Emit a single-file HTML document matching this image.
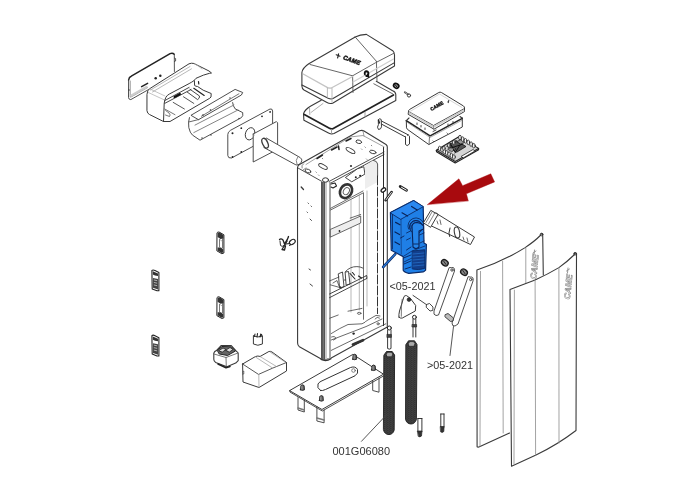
<!DOCTYPE html>
<html><head><meta charset="utf-8">
<style>
html,body{margin:0;padding:0;background:#fff;width:694px;height:500px;overflow:hidden}
svg{display:block}
text{font-family:"Liberation Sans",sans-serif;filter:grayscale(1)}
</style></head>
<body>
<svg width="694" height="500" viewBox="0 0 694 500">
<rect width="694" height="500" fill="#fff"/>
<g fill="none" stroke="#3a3a3a" stroke-width="0.9" stroke-linejoin="round" stroke-linecap="round">

<!-- 1 back plate -->
<g id="backplate">
<path d="M128.6,80 Q129,77 131.3,76.2 L170.1,53.6 Q172.8,52.6 174.2,54.3" stroke-width="1.5" stroke="#222"/>
<path d="M174.3,54.5 L174.4,71.5 M174.4,58 L175.6,58.5 L175.6,61 L174.4,61.5" stroke="#444"/>
<path d="M128.6,80 L128.5,97.5 Q128.6,99.6 130.8,99.6 L148.8,89.4" />
<path d="M130.2,81 L130.2,97 M131,97 L147.5,87.6" stroke="#888"/>
<path d="M131.5,95.5 L146.5,87" stroke="#ccc" stroke-width="2.5"/>
<path d="M128.5,90 L129.5,90" stroke="#333"/>
<path d="M141.6,86.6 L147.6,83.4" stroke-width="1.5" stroke="#222"/>
<circle cx="155.7" cy="78.2" r="1.25" fill="#222" stroke="none"/>
<circle cx="160.3" cy="75.7" r="1.25" fill="#222" stroke="none"/>
</g>

<!-- 2 housing -->
<g id="housing">
<path d="M147,94 Q147.3,89.5 150,88.5 L189,63.8 Q191.5,62.8 194,63.5 L209,71 L211.5,73 L209.5,73.3 Q204,74.5 196,78.3 L193.8,80.8 Q192,82 189.1,83.6 L169.4,94 Q165,96 164.2,103.4 L163.5,121.5 L149.5,114.5 Q147.4,113.7 147,111 Z" fill="#fff" stroke-width="1"/>
<path d="M150.5,90 L190,66.5 M152.5,92 L191.5,68.8" stroke="#999" stroke-width="0.7"/>
<path d="M194,63.5 Q199,66 202,69 M150,89 L165,96 M148.3,92.5 L164.5,100" stroke="#aaa" stroke-width="0.7"/>
<path d="M194.4,80.8 L194.6,85.5 Q196,86.5 197.6,86.5 L203.2,90.2 L211.2,93.5 L211,97 L209.8,98.2 L170,121.5 L163.5,121.5" stroke-width="1"/>
<path d="M164.7,100.6 L189.1,87.4 M164.7,103.4 L191,89.5" stroke="#333" stroke-width="0.9"/>
<path d="M174.5,97 L180,94" stroke="#111" stroke-width="2"/>
<path d="M173.2,102.4 L184.4,109 M183.5,96.8 L193.8,103.4" stroke="#444" stroke-width="0.9"/>
<path d="M187.3,92.1 L197.6,99.6 Q199.8,98.5 199.5,96 L190,89.3" stroke="#333" stroke-width="0.9"/>
<path d="M193.8,88.3 L204.2,95.4" stroke="#222" stroke-width="1.2"/>
<path d="M198.5,81.5 L198.8,84" stroke="#222" stroke-width="1.2"/>
<path d="M164.7,109 L175,114.7 M165.6,110.5 L169,113 Q171,115 169.5,116.5 L165.5,115" stroke="#555" stroke-width="0.8"/>
</g>

<!-- 3 bracket channel -->
<g id="channel">
<path d="M191.3,115.1 L235.1,89.4 L242.7,92.5 L241.4,95 L198.8,119.5 Z" fill="#fff"/>
<path d="M201.3,116.3 L238.9,93.8" stroke="#666"/>
<path d="M189.4,117.6 Q188,122 188.8,127.6 Q190,133 192.5,135.1 L200,140.2 L241.4,117.6 Q243.5,116 242.7,112.6 L235.1,108.8 Q233,106 232.6,102.6"/>
<path d="M195,125.1 L233.9,105 M193.8,132.6 L238,110" stroke="#777"/>
<path d="M188.8,122 L198.8,119.5" stroke="#555"/>
<circle cx="203" cy="115" r="0.8" fill="#333" stroke="none"/>
<circle cx="210.5" cy="110" r="0.8" fill="#333" stroke="none"/>
<circle cx="230" cy="98" r="0.7" fill="#333" stroke="none"/>
<circle cx="239" cy="118.5" r="0.7" fill="#333" stroke="none"/>
<circle cx="211" cy="135" r="0.7" fill="#333" stroke="none"/>
<circle cx="202" cy="138" r="0.7" fill="#333" stroke="none"/>
</g>

<!-- 4 flanges + shaft -->
<g id="flanges">
<path d="M272.6,123.8 L272.6,111 Q272.6,108.5 270,109 L230.5,130.3 Q227.8,132 227.8,134.5 L227.8,155.5 Q228,158.5 231.5,158 L253.2,146.3" fill="#fff"/>
<ellipse cx="250.1" cy="133.8" rx="4.6" ry="6.3" transform="rotate(20 250.1 133.8)"/>
<circle cx="232.5" cy="133.2" r="1" fill="#222" stroke="none"/>
<circle cx="241.3" cy="128.2" r="0.9" fill="#222" stroke="none"/>
<circle cx="262" cy="116.3" r="0.9" fill="#222" stroke="none"/>
<circle cx="270.1" cy="111.9" r="0.9" fill="#222" stroke="none"/>
<circle cx="232.5" cy="157" r="0.9" fill="#222" stroke="none"/>
<circle cx="241.3" cy="152" r="0.9" fill="#222" stroke="none"/>
<path d="M253.2,134 L276.4,121.6 L277.6,122.8 L277.6,143.8 L272.6,146.5 M253.2,134 L253.2,162 L272.6,151.9" fill="#fff"/>
<path d="M253.2,162 L277.6,148.5" stroke="none"/>
<path d="M266.4,138.1 L300.2,157.6 Q304,160.5 299,164.5 Q296.5,165.5 295.2,164.5 L263.9,147.5" fill="#fff"/>
<ellipse cx="265.1" cy="143.2" rx="2.6" ry="5.2" transform="rotate(-25 265.1 143.2)" fill="#fff" stroke-width="1.3"/>
<path d="M297.7,157 Q295,160 297,164.5" stroke="#777"/>
</g>

<!-- 5 top cover -->
<g id="topcover">
<path d="M301.9,72.6 Q302.5,68 308.8,63.8 L355.2,36.9 Q360,34.6 366.4,34.4 L392.7,50.7 Q394.5,52.5 394.5,55 L394.5,66 L332.6,103.2 Q329.5,104 327,102.5 L304,90 Q301.9,88.5 301.9,86 Z" fill="#fff" stroke-width="1.1"/>
<path d="M301.9,85 L328.2,98.2 Q331,99.5 333,98.5 L394.5,62.6" stroke-width="1.1"/>
<path d="M310,64.5 L352.6,75.8 L375.8,62.6 L394,53.2 M355.1,36.9 L376.4,61.3 M352.6,75.8 L353,92.5 M376.4,61.3 L377,80.5" stroke="#555"/>
<path d="M303.2,74 L327.6,87.6 Q329.5,88.4 331.3,88 L352.6,76.5" stroke="#c4c4c4" stroke-width="1.3"/>
<path d="M353,82 L393.5,59" stroke="#d0d0d0" stroke-width="1.2"/>
<path d="M327.4,88 L327.4,97.5 M332,88.5 L332,102.5" stroke="#aaa" stroke-width="0.8"/>
<text x="0" y="0" font-size="6" font-weight="bold" font-style="italic" fill="#666" stroke="#1a1a1a" stroke-width="0.6" transform="translate(342.8,59) rotate(20)">CAME</text>
<path d="M336.2,54.8 L340,56.3 M338.6,53.8 L337.6,58" stroke="#222" stroke-width="1.1"/>
<path d="M364.8,74.2 Q364.3,71.3 366.6,71.3 Q368.8,71.6 368.3,74.3 Q367.8,76.5 366.2,75.8 M367.9,74.5 L368.5,76.8" stroke="#111" stroke-width="1.9"/>
</g>

<!-- 6 gasket -->
<g id="gasket">
<path d="M321.2,100.2 L310.4,106.2 Q305,109.5 303.5,113.6 L303.9,120.3 L328.5,133 Q331.5,134.5 334,133.5 L395.8,100.5 L395.8,94.5 Q395.5,91.5 392.6,90.7 L376.3,81.3" fill="none" stroke-width="1.1"/>
<path d="M304.3,114.4 L329.4,128.3 Q331,129.2 332.8,128.7 L393.5,95" stroke-width="1.7" stroke="#222"/>
<path d="M309.5,107.5 L309.8,114.5 M311,112.5 L323,103.5" stroke="#999" stroke-width="0.8"/>
<path d="M373.8,83.8 L392.6,93.8" stroke="#555" stroke-width="0.9"/>
<path d="M331.5,129.5 L331.5,134 M365,112.5 L365,116.5" stroke="#999"/>
</g>

<!-- 7 washer, screw -->
<ellipse cx="396.2" cy="85.8" rx="2.8" ry="2.2" transform="rotate(35 396.2 85.8)" fill="#999" stroke="#111" stroke-width="1.6"/><path d="M394.5,84 L397.5,87.5" stroke="#111" stroke-width="1"/>
<path d="M404.8,92.3 L407.8,94.3" stroke-width="1.8" stroke="#333"/><path d="M404.8,92.3 L407.8,94.3" stroke-width="0.6" stroke="#fff"/>
<circle cx="409" cy="95.5" r="1.6" stroke-width="1"/>

<!-- 8 control box -->
<g id="ctrlbox">
<path d="M406.3,120.7 L406.5,127.8 Q407,129.5 409,130.5 L428.8,144.5 L462.3,127 L462.3,118.2" fill="#fff" stroke-width="1"/>
<path d="M406.3,120.7 L430.1,135.8 L462.3,118.4" stroke-width="1.5" stroke="#222"/>
<path d="M407.5,122.5 L430,137.5 L461.5,120.5" stroke="#777" stroke-width="0.6"/>
<path d="M429.5,137 L429,144.5" stroke="#555" stroke-width="0.8"/>
<path d="M406.3,120.7 L409,118 M462.3,118.2 L460,116.5" stroke-width="1.1"/>
<path d="M417,123 l0,1.5 M421,125.5 l0,1.5 M425,128 l0,1.5 M448,124 l0,1.5 M453,121.5 l0,1.5 M433,131.5 l3,-1.5" stroke="#333" stroke-width="0.9"/>
<path d="M433,141 l0.4,0.4 M447,133 l0.4,0.4" stroke="#333" stroke-width="0.9"/>
<path d="M408.5,111 Q408.5,110 409.5,109.5 L438.8,92.5 Q440,91.8 441.4,92.5 L463.5,106 Q464.5,106.7 464.5,108 L464.5,111.5 L434,129.2 L408.5,114.5 Z" fill="#fff" stroke-width="1"/>
<path d="M408.5,111.5 L433.5,125.5 L464.5,108.5" stroke-width="0.9"/>
<path d="M409.5,113 L433.5,127 L463.5,110.5" stroke="#ccc" stroke-width="1.6"/>
<path d="M410,111.5 L439.5,94 L462,107.5" stroke="#ccc" stroke-width="0.8"/>
<path d="M433.5,126.5 L433.5,129.5" stroke="#777" stroke-width="0.7"/>
<text x="0" y="0" font-size="4.8" font-weight="bold" fill="#777" stroke="#222" stroke-width="0.5" transform="translate(431.5,111) rotate(-30)">CAME</text>
<path d="M447.5,102 l1.5,-0.9 M448.5,100.5 l0,2.2" stroke="#333" stroke-width="0.8"/>
</g>

<!-- 9 small bracket -->
<g id="smallbracket">
<path d="M379.5,120 L408.5,135 M379.5,123 L407,137.8" stroke-width="1"/>
<path d="M378.5,119.5 Q379.8,117.8 381.2,119.5 L381.5,126.8 L380.5,128.8 L378.5,129.5 L377.5,127.2 L378.3,125 Z" fill="#fff" stroke-width="1"/>
<path d="M378.5,120 L379.5,123" stroke="#222" stroke-width="1.3"/>
<path d="M405.5,136.8 L405.5,144.5 L407.2,145.6 L409.5,144 L409.5,136.2 Q408.5,134.5 407.5,135.2" fill="#fff" stroke-width="1"/>
</g>

<!-- 10 circuit board -->
<g id="board">
<path d="M436.3,150.2 L458.8,136.7 L478.6,148.4 L455.2,161.5 Z" fill="#d6d6d6" stroke="#222" stroke-width="1.1"/>
<path d="M436.3,150.2 L436.5,151.8 L455.2,163 L478.6,149.8 L478.6,148.4" stroke="#222" stroke-width="1.1"/>
<path d="M447,146 L456,140.5 L466,146.5 L457,152 Z" fill="#555" stroke="#111" stroke-width="0.8"/>
<path d="M448,149 L452,146.5 L456,149 L452,151.5 Z M457,141.5 L461,139.5 L465,142 L461,144 Z" fill="#999" stroke="#111" stroke-width="0.7"/>
<path d="M450,143 L455,152 M460,145 L455,153 M451,148 L463,144" stroke="#111" stroke-width="1"/>
<ellipse cx="439.7" cy="148.5" rx="1.4" ry="2.3" fill="#f4f4f4" stroke="#222" stroke-width="0.8"/>
<ellipse cx="442.1" cy="149.9" rx="1.4" ry="2.3" fill="#f4f4f4" stroke="#222" stroke-width="0.8"/>
<ellipse cx="444.4" cy="151.4" rx="1.4" ry="2.3" fill="#f4f4f4" stroke="#222" stroke-width="0.8"/>
<ellipse cx="446.8" cy="152.8" rx="1.4" ry="2.3" fill="#f4f4f4" stroke="#222" stroke-width="0.8"/>
<ellipse cx="449.1" cy="154.2" rx="1.4" ry="2.3" fill="#f4f4f4" stroke="#222" stroke-width="0.8"/>
<ellipse cx="451.5" cy="155.6" rx="1.4" ry="2.3" fill="#f4f4f4" stroke="#222" stroke-width="0.8"/>
<ellipse cx="453.9" cy="157.0" rx="1.4" ry="2.3" fill="#f4f4f4" stroke="#222" stroke-width="0.8"/>
<ellipse cx="460.0" cy="137.5" rx="1.4" ry="2.3" fill="#f4f4f4" stroke="#222" stroke-width="0.8"/>
<ellipse cx="462.7" cy="139.1" rx="1.4" ry="2.3" fill="#f4f4f4" stroke="#222" stroke-width="0.8"/>
<ellipse cx="465.5" cy="140.8" rx="1.4" ry="2.3" fill="#f4f4f4" stroke="#222" stroke-width="0.8"/>
<ellipse cx="468.3" cy="142.4" rx="1.4" ry="2.3" fill="#f4f4f4" stroke="#222" stroke-width="0.8"/>
<ellipse cx="471.1" cy="144.1" rx="1.4" ry="2.3" fill="#f4f4f4" stroke="#222" stroke-width="0.8"/>
<ellipse cx="473.8" cy="145.7" rx="1.4" ry="2.3" fill="#f4f4f4" stroke="#222" stroke-width="0.8"/>
<ellipse cx="443.9" cy="148.3" rx="1.3" ry="2" fill="#f4f4f4" stroke="#222" stroke-width="0.8"/>
<ellipse cx="448.9" cy="145.4" rx="1.3" ry="2" fill="#f4f4f4" stroke="#222" stroke-width="0.8"/>
<ellipse cx="453.8" cy="142.4" rx="1.3" ry="2" fill="#f4f4f4" stroke="#222" stroke-width="0.8"/>
<path d="M461.5,156.2 L473,149.5 L475,151 L463.5,157.8 Z" fill="#fff" stroke="#222" stroke-width="0.8"/>
</g>

<!-- 11 cabinet -->
<g id="cabinet">
<path d="M297.5,167.5 Q297.8,165.5 299.5,164.5 L359.5,130.8 Q362,129.8 364,131 L386,144.5 Q387.3,145.5 387.3,147 L387.3,327 L329.8,358.8 L322.1,359.5 L299.4,346.8 Q297.6,345.5 297.6,343 Z" fill="#fff" stroke-width="1.1"/>
<path d="M298,168 L322,181.5 M329,181.5 L384,152 M330,183.5 L384,154.5" stroke-width="0.9"/>
<path d="M306,164.5 L350,137 L363,135.5 L384,146.8 M363,131 L364,136" stroke="#777" stroke-width="0.7"/>
<path d="M383.5,147.5 L383.5,325.6" stroke-width="1" stroke="#2a2a2a"/>
<rect x="321" y="182" width="4" height="177.5" fill="#555" stroke="none"/>
<path d="M323.3,182 L323.3,359" stroke="#8a8a8a" stroke-width="0.7"/>
<rect x="325" y="182" width="2" height="177" fill="#cdcdcd" stroke="none"/>
<rect x="329" y="182" width="2" height="176.5" fill="#a8a8a8" stroke="none"/>
<path d="M321,359.5 Q326,362 331,358.8" stroke="#333" stroke-width="1.1"/>
<ellipse cx="325.5" cy="180" rx="3" ry="2.2" fill="#fff" stroke="#333" stroke-width="1"/>
<ellipse cx="323" cy="166.5" rx="4.8" ry="1.9" transform="rotate(28 323 166.5)"/>
<ellipse cx="350.5" cy="150.5" rx="5" ry="1.9" transform="rotate(30 350.5 150.5)"/>
<ellipse cx="358.8" cy="141.8" rx="2.9" ry="1.7" transform="rotate(15 358.8 141.8)"/>
<ellipse cx="372.8" cy="152" rx="3.3" ry="1.6" transform="rotate(15 372.8 152)"/>
<ellipse cx="308" cy="171" rx="3" ry="1.7" transform="rotate(20 308 171)"/>
<path d="M302,168 Q301,165.5 303.5,163.8 M303,170 L306,168" stroke="#555" stroke-width="0.7"/>
<path d="M317,158.5 L322.5,155 M331.5,150 L337,147 M338.5,146 L339,149.5 M346,141 L351,138.5" stroke-width="1.5" stroke="#222"/>
<path d="M361.5,149 l0.3,0.3 M365,147 l0.3,0.3 M371.5,145.5 l0.3,0.3 M366.5,159 l0.3,0.3 M322.5,158.5 l0.3,0.3 M318.5,175 l0.3,0.3 M316,172 l0.3,0.3" stroke="#555" stroke-width="0.9"/>
<circle cx="351" cy="166" r="1.1" fill="#333" stroke="none"/>
<path d="M345.7,177.3 L357.4,168.8 L363.8,166.7 L364.9,174.1 L352.1,181.6 Z" fill="#fff" stroke="#333" stroke-width="0.9"/>
<circle cx="355.8" cy="177.3" r="1" fill="#222" stroke="none"/>
<circle cx="360.1" cy="175.7" r="1" fill="#222" stroke="none"/>
<path d="M331,184 L335,183 L336.5,186 L333,188 L331,187" stroke="#222" stroke-width="1.1"/>
<ellipse cx="346" cy="191.2" rx="5.7" ry="7.2" transform="rotate(30 346 191.2)" fill="#fff" stroke="#333" stroke-width="2.6"/>
<ellipse cx="346.3" cy="191" rx="2.8" ry="3.8" transform="rotate(30 346 191.2)" stroke="#555" stroke-width="0.9"/>
<path d="M330.6,208.3 L363,191 M330.6,210 L363,193" stroke="#444" stroke-width="0.8"/>
<path d="M351,199.5 L351,312 M359.3,195 L359.3,310 M363.5,193 L363.5,319.2 M367,191 L367,306" stroke="#999" stroke-width="0.7"/>
<path d="M363.5,193 L363.5,319.2" stroke="#555" stroke-width="0.8"/>
<path d="M365,166 L373.4,160.3 Q377.2,161 377.6,164 L377.6,182 L365,189 Z" fill="#eeeeee" stroke="none"/>
<path d="M373.4,160.3 Q377.2,161 377.6,164 L377.6,176" stroke="#444" stroke-width="0.9"/>
<path d="M377.5,176 L377.5,313.6" stroke="#333" stroke-width="1" stroke-dasharray="9 2"/>
<path d="M330.6,229.3 L360.7,216 L360.7,223 L330.6,237 Z" fill="#eee" stroke="#444" stroke-width="0.8"/>
<path d="M350.2,218.1 L360.7,214.5" stroke="#444" stroke-width="0.8"/>
<circle cx="339.5" cy="231" r="0.9" fill="#222" stroke="none"/>
<path d="M329.5,294 L366.5,275.7 M329.5,297.7 L366.8,278.5" stroke="#333" stroke-width="0.9"/>
<path d="M366.3,275.5 Q367.5,276.5 366.8,278.5" stroke="#333" stroke-width="0.9"/>
<path d="M345.5,271.5 Q350,266.5 356.9,266.6 Q360,266.5 363,268.1" stroke="#444" stroke-width="0.9"/>
<path d="M338.6,273.7 L342.5,272 L344,286.5 L340,288 Z M345.5,272 L348.5,271.5 L350,284 L346.5,285 Z" stroke="#333" stroke-width="0.9"/>
<path d="M350,273.5 L355,279 M352.5,272.5 L354.5,275 M358.5,276 L361.5,278" stroke="#222" stroke-width="1.1"/>
<path d="M329.5,281 L339,277 M330.3,284.8 L341.5,288 M333,283 L337,280.5 L339,286" stroke="#444" stroke-width="0.8"/>
<circle cx="345" cy="280" r="0.7" fill="#222" stroke="none"/><circle cx="340.5" cy="287" r="0.7" fill="#222" stroke="none"/>
<path d="M329.8,318.2 L338.2,315 M348,311.2 L362,308.4 M331.2,333.6 Q340,328 348,324.5 L362,323.8 Q366,322 366.2,321 L376,315.4 L380,316 M331.2,340 L366,326.6 L382,319 M331.2,350.4 L385.8,323.8" stroke="#444" stroke-width="0.8"/>
<path d="M331.5,337 Q335,335.5 336,338.5 L333.5,340 M375,319 Q377,316 379.5,318" stroke="#444" stroke-width="0.8"/>
<ellipse cx="359.2" cy="313.3" rx="1.8" ry="1" stroke="#444" stroke-width="0.8"/>
<circle cx="378.1" cy="323.8" r="1.1" stroke="#444" stroke-width="0.8"/>
<circle cx="353.6" cy="333.6" r="1.2" fill="#222" stroke="none"/>
<path d="M353,344.5 L363,340.2" stroke="#333" stroke-width="2.8"/>
<path d="M301.2,187 L303.5,189.5" stroke-width="1.3"/>
<path d="M308,203 l0.5,0.5 M311,206 l0.5,0.5 M307,212 l0.5,0.5 M310,219 l1.5,1.5 M309,269 l1.5,1 M310,284 l2.5,2" stroke="#333" stroke-width="0.9"/>
</g>

<!-- small parts near cabinet right -->
<ellipse cx="383.4" cy="190" rx="2.6" ry="1.7" transform="rotate(-40 383.4 190)" fill="#fff" stroke="#222" stroke-width="1.3"/>
<path d="M391.6,192.1 L385.6,200.2" stroke="#222" stroke-width="2.6" stroke-linecap="round"/>
<path d="M391.4,192.5 L386,199.8" stroke="#fff" stroke-width="0.9"/>
<path d="M400.2,186.5 L406.5,190.2" stroke="#222" stroke-width="2.8" stroke-linecap="round"/>
<path d="M401.5,187.3 L406.3,190.1" stroke="#fff" stroke-width="1"/>

<!-- 12 blue motor -->
<g id="motor" stroke="#0b2a66" stroke-width="0.9">
<path d="M395.2,254.2 L383.2,267" stroke="#0b2a66" stroke-width="2.6"/>
<path d="M395.2,254.2 L383.2,267" stroke="#2a7ad8" stroke-width="1.2"/>
<path d="M390.4,212.6 L413.6,200.6 L423.2,207 L424,243 L426.4,244.6 L425.6,270.2 Q424,272 423.2,271.8 L408.8,273.4 Q404,272 403.2,270.2 L403.2,256.6 L391.2,250.2 Z" fill="#1f7fe6" stroke-width="1.2"/>
<path d="M390.4,212.6 L413.6,200.6 L423.4,206.6 L401,219.2 Z" fill="#2a88f0" stroke-width="0.9"/>
<path d="M401,219.2 L401.3,254" stroke-width="0.6"/>
<path d="M402,212.8 L407.6,216 M411.6,206.4 L417.2,210 M395.6,222.4 L400,224.8 M395,232 L399.5,234.5 M395,242 L399.5,244.5" stroke="#0a2358" stroke-width="1.2"/>
<circle cx="416" cy="227" r="6.5" fill="#1c78dc" stroke-width="1"/>
<circle cx="416" cy="227" r="4.2" fill="#2a88f0" stroke-width="0.8"/>
<path d="M408.5,229 A7.7,7.7 0 0 1 423.5,223" stroke="#0a2358" stroke-width="0.8"/>
<path d="M410.5,229.5 A5.5,5.5 0 0 1 421.5,224" stroke="#0a2358" stroke-width="0.7"/>
<path d="M412,226 Q413,222.5 417,222.5 Q421.5,223 423.5,226 L423.5,229 L419,231 L419,247 Q416,250 413,247 Z" fill="#2585ea" stroke="#0a2358" stroke-width="1.1"/>
<path d="M413.5,244 L418.5,244 M406.5,250 L411,247 M400.5,238 L404,236" stroke="#0a2358" stroke-width="0.9"/>
<path d="M404,256 L412,251 L425,246 M404,262 L412,258" stroke-width="0.8"/>
<path d="M412.6,251 L424.7,249.7 L424.7,268.4 Q418,270.5 412.6,269 Z" fill="#123f8c" stroke="#0b2a66" stroke-width="0.9"/>
<path d="M413,254 L424,253 M413,257 L424,256 M413,260 L424,259 M413,263 L424,262 M413,266 L424,265" stroke="#2a7ad8" stroke-width="0.6"/>
<path d="M406.5,233 L410.5,231 M406.5,240 L410.5,238 M392.5,214.5 L392.5,249 M419.5,235 L424,233 M420,243 L424,241" stroke="#0a2358" stroke-width="0.8"/>
<path d="M403.5,258 L411,255 M404,264 L411,261 M405,269 L411,267" stroke="#0a2358" stroke-width="0.9"/>
</g>

<!-- 13 red arrow -->
<path d="M427.5,204.5 L458.9,178.8 L462.6,185.7 L490.8,173.8 L494.6,181.9 L466.4,193.8 L468.3,200.7 Z" fill="#a80a0e" stroke="#a80a0e" stroke-width="0.4"/>

<!-- 14 spring tube link -->
<g id="tube">
<path d="M438,214.4 L474.5,237 L470.5,244.5 L431.7,226.1" fill="#fff" stroke-width="1"/>
<path d="M423.6,222.5 L430.8,210.4 L438,214.4 L430.8,227 Z" fill="#fff" stroke-width="1"/>
<path d="M426,222.5 L432,212 M428.5,224 L434.5,213.5 M434,213 L437,213 L438,216" stroke="#555" stroke-width="0.7"/>
<path d="M450,228 Q448,234 449.5,236.5" stroke="#333" stroke-width="1"/>
<ellipse cx="457" cy="232.5" rx="2.6" ry="5.6" transform="rotate(-10 457 232.5)" stroke-width="1.1"/>
<path d="M437,221 L438,224 M440,220 L441,224.5 M463,237 L464,240 M467,238 L468,242" stroke="#444" stroke-width="0.8"/>
</g>

<!-- 15 panels -->
<g id="panels">
<path d="M476.9,270.1 Q502,262 525.1,247.6 Q535,241 540.8,235 L541.4,233.8 Q543,233 542.7,235 L543.3,275 M476.9,270.1 L477.1,446.8 Q478,447.5 480,446.5 L509.5,433.1" stroke-width="1.1"/>
<path d="M480.5,271.4 L480,446 M502.6,261.3 L503.2,433 M525.8,248.2 L525.8,290" stroke="#999"/>
<text x="0" y="0" font-size="8.5" font-weight="bold" fill="#fff" stroke="#8a8a8a" stroke-width="0.6" transform="translate(536,280) rotate(-84) skewX(-12)">CAME</text>
<path d="M533,253 L536,251 M534.5,250 L534,255" stroke="#8a8a8a" stroke-width="0.9"/>
<path d="M510,289.5 Q522,285 535.1,280.1 Q548,274 558.9,267.6 Q568,261 574,255 L574.6,253.2 Q577,252 576.5,255 L576,430.5 Q557,445 536,455 Q522,461.5 511.5,466.3 L510,289.5 Z" fill="#fff" stroke-width="1.1"/>
<circle cx="541.5" cy="234.5" r="1.3" stroke="#333"/><circle cx="575" cy="253.8" r="1.3" stroke="#333"/>
<path d="M514.4,290.1 L514,464 M535.1,280.7 L535.6,455 M558.9,268.2 L559,443" stroke="#999"/>
<text x="0" y="0" font-size="8.5" font-weight="bold" fill="#fff" stroke="#8a8a8a" stroke-width="0.6" transform="translate(569.8,300) rotate(-84) skewX(-12)">CAME</text>
<path d="M566.5,271 L569.5,269 M568,268 L567.5,273" stroke="#8a8a8a" stroke-width="0.9"/>
</g>

<!-- 17 rods -->
<g id="rods">
<path d="M449,268 L434,311 Q433,315 436,315.5 L438.5,315 L454.5,271 Q455,267 452,267.5 Z" fill="#fff"/>
<circle cx="452" cy="270" r="1.2"/>
<ellipse cx="444.8" cy="262.8" rx="3.6" ry="2.8" transform="rotate(35 444.8 262.8)" fill="#888" stroke="#1a1a1a" stroke-width="1.3"/><path d="M443.5,261 L446,264.5" stroke="#222" stroke-width="0.9"/>
<path d="M468,277 L452,323 Q452,326.5 455,326 L458,324 L473,281 Q474,276.5 470.5,277 Z" fill="#fff"/>
<circle cx="470.7" cy="279.5" r="1.2"/>
<ellipse cx="464" cy="272.2" rx="3.6" ry="2.8" transform="rotate(35 464 272.2)" fill="#888" stroke="#1a1a1a" stroke-width="1.3"/><path d="M462.7,270.4 L465.2,274" stroke="#222" stroke-width="0.9"/>
<path d="M413,295.4 L427,305" stroke="#333" stroke-width="0.9"/>
<path d="M426.8,304.4 L429.5,303.5 L433,307 L432.8,310.4 L430,311 L426.5,307.5 Z" fill="#fff" stroke="#333" stroke-width="0.9"/>
<path d="M445.5,314.5 L448,313.5 L453.5,318 L453,321 L450.5,321.5 L445.2,317 Z" fill="#bbb" stroke="#333" stroke-width="0.9"/>
<path d="M399,317.2 Q398.5,315 399.5,311 L404,296.5 Q405,295.3 406.5,295.6 L410.3,298.3 L415.7,305.5 L415.3,311 L402.2,318.1 Q400,318.5 399,317.2 Z" fill="#fff" stroke-width="1"/>
<path d="M402.2,299.2 Q401,306 401.3,316.3" stroke="#555" stroke-width="0.8"/>
<circle cx="409" cy="299.6" r="1.9" fill="#333" stroke="#222" stroke-width="0.6"/>

</g>

<!-- 18 springs, bolts, pins -->
<defs>
<pattern id="coil" width="3" height="2" patternUnits="userSpaceOnUse">
<rect width="3" height="2" fill="#222"/>
<rect x="0.3" y="1" width="1.4" height="0.7" fill="#8a8a8a"/>
<rect x="1.8" y="0.2" width="1" height="0.6" fill="#666"/>
</pattern>
</defs>
<g id="springs">
<path d="M384,355 L386.5,351.5 L392.2,351.5 L394.6,355 L394.2,430 Q393,434.4 389,434.6 Q384.5,434.4 383.5,430 Z" fill="url(#coil)" stroke="#1e1e1e" stroke-width="0.9"/>
<path d="M406,344.5 L408.5,340.8 L414.5,340.8 L417,344.5 L416.4,419.5 Q415,423.8 411,424 Q406.5,423.8 405.6,419.5 Z" fill="url(#coil)" stroke="#1e1e1e" stroke-width="0.9"/>
<path d="M386.3,354 L387.8,352.3 L391.3,352.3 L392.8,354 L391.8,356.8 L387.3,356.8 Z" fill="#aaa" stroke="#222" stroke-width="0.7"/>
<path d="M408.3,343.5 L409.8,341.6 L413.5,341.6 L415,343.5 L414,346.3 L409.3,346.3 Z" fill="#aaa" stroke="#222" stroke-width="0.7"/>
<path d="M387.6,330 L387.6,348.5 Q389.3,349.8 391,348.5 L391,330" fill="#fff" stroke="#222" stroke-width="0.9"/>
<circle cx="389.3" cy="328" r="2" fill="#fff" stroke="#222" stroke-width="1"/>
<path d="M387.2,334.4 L391.4,334.4 L391.4,337.4 L387.2,337.4 Z" fill="#444" stroke="#222" stroke-width="0.6"/>
<path d="M413,319 L413,337 M415.8,319 L415.8,337" stroke="#222" stroke-width="0.9"/>
<circle cx="414.4" cy="317.2" r="1.9" fill="#fff" stroke="#222" stroke-width="1"/>
<path d="M412.3,324.5 L416.6,324.5 L416.6,327 L412.3,327 Z" fill="#444" stroke="#222" stroke-width="0.6"/>
<path d="M417.9,418.5 L417.9,431.5 M421.9,418.5 L421.9,431.5 M417.9,418.5 L421.9,418.5" fill="#eee" stroke="#222" stroke-width="0.9"/>
<path d="M417.7,431 L422,431 L421.5,436 Q420,437.6 418.5,436.5 Z" fill="#333" stroke="#222" stroke-width="0.7"/>
<path d="M440.8,414 L440.8,427 M444,414 L444,427 M440.8,414 L444,414" fill="#eee" stroke="#222" stroke-width="0.9"/>
<path d="M440.6,426.5 L444.1,426.5 L443.8,431.5 Q442.3,433.2 440.8,432 Z" fill="#333" stroke="#222" stroke-width="0.7"/>
<path d="M361.5,441.3 L387.1,414.2 M450,355.5 L453.5,326.5" stroke="#444" stroke-width="0.9"/>
</g>

<!-- 19 base plate -->
<g id="base">
<path d="M289.9,390.4 L352.9,354.4 L383.5,374.2 L322.3,409.3 Z" fill="#fff" stroke-width="1"/>
<path d="M289.9,390.4 L289.9,392 L322.3,411 L383.5,376" />
<path d="M320.5,390.5 Q316.5,388 318,384 Q318.8,382.5 321,381.3 L350.5,367.5 Q355.5,365.8 357.5,369.5 Q358.8,373.5 355,375.8 L325.5,389.5 Q322.5,391 320.5,390.5 Z" stroke="#333" stroke-width="1"/>
<circle cx="353.5" cy="370.5" r="1.8" stroke="#555" stroke-width="0.7"/>
<path d="M298,397.6 L298,410 L304.3,412 L304.3,400 M316.9,406.6 L316.9,421 L324.1,422.8 L324.1,410 M372.7,381.4 L372.7,390.5 L379,392.2 L379,378"/>
<path d="M298,408 L304.3,410 M316.9,418 L324.1,420" stroke="#777" stroke-width="1.5"/>
<g fill="#666" stroke="#222" stroke-width="0.9">
<path d="M300.5,389.8 L300.9,385.6 Q302.5,384.0 304.1,385.6 L304.5,389.8 Q302.5,391.0 300.5,389.8 Z"/>
<path d="M301.9,386.1 L301.9,389.1" stroke="#ccc" stroke-width="0.6"/>
<path d="M319.4,400.6 L319.8,396.4 Q321.4,394.8 323.0,396.4 L323.4,400.6 Q321.4,401.8 319.4,400.6 Z"/>
<path d="M320.8,396.9 L320.8,399.9" stroke="#ccc" stroke-width="0.6"/>
<path d="M352.7,359.2 L353.1,355.0 Q354.7,353.4 356.3,355.0 L356.7,359.2 Q354.7,360.4 352.7,359.2 Z"/>
<path d="M354.1,355.5 L354.1,358.5" stroke="#ccc" stroke-width="0.6"/>
<path d="M371.6,370.0 L372.0,365.8 Q373.6,364.2 375.2,365.8 L375.6,370.0 Q373.6,371.2 371.6,370.0 Z"/>
<path d="M373.0,366.3 L373.0,369.3" stroke="#ccc" stroke-width="0.6"/>
</g>
</g>

<!-- 20 small left parts -->
<g id="smallparts">
<g transform="translate(0.0,0.0)">
<path d="M217.2,232.5 Q217.5,232 219,232 L223.9,234.8 L223.9,253 L221.8,253.7 L217.2,251 Z" fill="#fff" stroke="#222" stroke-width="1"/>
<path d="M217.6,233 L220,232.8 L223.5,235.2 L223.5,238.5 L220.5,239 L217.6,237 Z" fill="#333" stroke="none"/>
<path d="M217.6,247.4 L221,247.5 L223.2,249.5 L223.2,252.5 L221.5,253 L217.6,250.5 Z" fill="#333" stroke="none"/>
<path d="M219.5,239.5 L219.5,247 M222.5,238.5 L222.5,248" stroke="#555" stroke-width="0.8"/>
<path d="M220.5,240 L222.5,241.5" stroke="#888" stroke-width="0.7"/>
</g>
<g transform="translate(0.0,64.8)">
<path d="M217.2,232.5 Q217.5,232 219,232 L223.9,234.8 L223.9,253 L221.8,253.7 L217.2,251 Z" fill="#fff" stroke="#222" stroke-width="1"/>
<path d="M217.6,233 L220,232.8 L223.5,235.2 L223.5,238.5 L220.5,239 L217.6,237 Z" fill="#333" stroke="none"/>
<path d="M217.6,247.4 L221,247.5 L223.2,249.5 L223.2,252.5 L221.5,253 L217.6,250.5 Z" fill="#333" stroke="none"/>
<path d="M219.5,239.5 L219.5,247 M222.5,238.5 L222.5,248" stroke="#555" stroke-width="0.8"/>
<path d="M220.5,240 L222.5,241.5" stroke="#888" stroke-width="0.7"/>
</g>
<g transform="translate(0.0,0.0)">
<path d="M151.9,270.4 Q153,269.5 155,270.5 L158.9,272.5 L158.9,290.7 L157,290.8 L152.2,288.9 Z" fill="#fff" stroke="#222" stroke-width="1.1"/>
<path d="M152.8,271.2 L158,273.5 L158,276 L155,275.5 L152.8,274.5 Z" fill="#333" stroke="none"/>
<path d="M153.5,276.5 L157.5,277.5" stroke="#fff" stroke-width="1.2"/>
<path d="M153,278 L158,279 L158,289.5 L153,287.8 Z" fill="#444" stroke="none"/>
<path d="M154.2,280 L156.8,280.6 M154.2,282.5 L156.8,283.1 M154.2,285 L156.8,285.6" stroke="#ccc" stroke-width="0.8"/>
</g>
<g transform="translate(0.0,65.2)">
<path d="M151.9,270.4 Q153,269.5 155,270.5 L158.9,272.5 L158.9,290.7 L157,290.8 L152.2,288.9 Z" fill="#fff" stroke="#222" stroke-width="1.1"/>
<path d="M152.8,271.2 L158,273.5 L158,276 L155,275.5 L152.8,274.5 Z" fill="#333" stroke="none"/>
<path d="M153.5,276.5 L157.5,277.5" stroke="#fff" stroke-width="1.2"/>
<path d="M153,278 L158,279 L158,289.5 L153,287.8 Z" fill="#444" stroke="none"/>
<path d="M154.2,280 L156.8,280.6 M154.2,282.5 L156.8,283.1 M154.2,285 L156.8,285.6" stroke="#ccc" stroke-width="0.8"/>
</g>

<path d="M279.5,239.5 Q281,238 283,240 L284.5,244 L288,238 L288.5,236.5 L286,243 L283.5,247 L282,249.5 L284.5,250 L285.5,246" stroke="#222" stroke-width="1.3"/>
<path d="M280,241 L280.5,245.5 Q282,247.5 284.5,245 L287,241.5" stroke="#333" stroke-width="1"/>
<ellipse cx="292.3" cy="242" rx="3.2" ry="2.2" transform="rotate(-35 292.3 242)" stroke="#222" stroke-width="1.1"/>
<path d="M286,244 L290,243.5 M289.5,245.5 L290.5,245" stroke="#222" stroke-width="1"/>
</g>

<!-- 21 transformer & box -->
<g id="transformer">
<path d="M213.8,353.1 Q214.5,351 216.3,350.6 L221.3,345.5 L231.3,345.5 L236.3,351.2 Q238,352 238.2,353.5 L238.2,360.6 L235.7,363.1 L226.9,366.8 L215.7,362.5 Q213.8,361.5 213.8,359.3 Z" fill="#fff" stroke-width="1.1"/>
<path d="M217.5,350 L222,346.5 L231.5,346.8 L235.5,351 L227.5,355.5 L219.5,354 Z" fill="#666" stroke="#222" stroke-width="1"/>
<path d="M219,350.5 L223,348 L226,349.5 L222.5,352 Z M226,350 L230,347.5 L233,349.5 L229.5,352 Z" fill="#ddd" stroke="#222" stroke-width="0.8"/>
<path d="M214,354 L226,357.5 L238,353 M226,357.5 L226.3,366.8" stroke="#555" stroke-width="0.8"/>
<path d="M218,364 L226,367.8 L230,366.5" stroke="#222" stroke-width="1.5"/>
<path d="M253.4,336 L253.4,344 Q257.8,346.5 262.4,344 L262.4,336 Q258,338 253.4,336 Z" fill="#fff" stroke-width="1"/>
<path d="M254.5,336.5 L255,334 M257,337 L257.5,333.5 M260,337 L260.8,334 M262,336 L261.5,334.5" stroke="#222" stroke-width="1.1"/>
<path d="M242.6,364 L255.5,356.5 Q258,355.5 260,356.5 L268.9,351.5 Q270.5,351 272,352 L286.5,362.5 L286.5,371 L259,387.5 L243,382 L242.6,364 Z" fill="#fff" stroke-width="1"/>
<path d="M242.6,364 L258.5,374.4 L272.7,368.1 L286.5,362.5" stroke="#444" stroke-width="0.9"/>
<path d="M258.8,374.5 L259,387.5" stroke="#999" stroke-width="0.7"/>
<path d="M255.5,357 L272.5,368 M260,356.5 L276.5,366.5 M270,352 L285,362" stroke="#999" stroke-width="0.7"/>
<path d="M242.6,372 L243.8,371 L243.8,374 L242.6,374" stroke="#444" stroke-width="0.7"/>
</g>
</g>

</g>

<!-- 16 texts -->
<text x="389.5" y="290.2" font-size="10.8" fill="#333">&lt;05-2021</text>
<text x="427" y="368.7" font-size="10.8" fill="#333">&gt;05-2021</text>
<text x="332.5" y="455" font-size="11" fill="#2f3340">001G06080</text>
</svg>
</body></html>
